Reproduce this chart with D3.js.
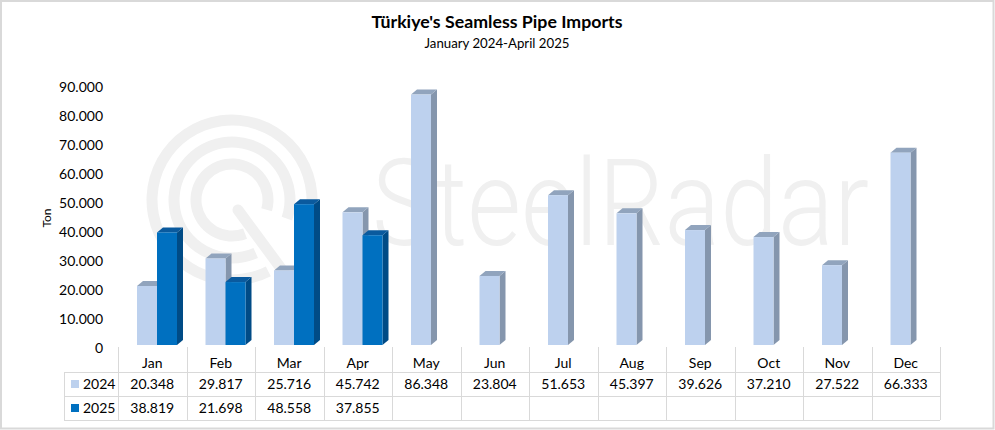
<!DOCTYPE html>
<html><head><meta charset="utf-8">
<script src="https://cdn.jsdelivr.net/npm/d3@7"></script>
<style>
html,body{margin:0;padding:0;background:#fff;}
svg{display:block;font-family:Lato,"Open Sans",sans-serif;}
</style></head>
<body>
<svg id="chart" width="995" height="430"></svg>
<script>
const months = ["Jan","Feb","Mar","Apr","May","Jun","Jul","Aug","Sep","Oct","Nov","Dec"];
const seriesNames = ["2024","2025"];
const values2024 = [20348,29817,25716,45742,86348,23804,51653,45397,39626,37210,27522,66333];
const values2025 = [38819,21698,48558,37855,null,null,null,null,null,null,null,null];
const yTicks = [0,10000,20000,30000,40000,50000,60000,70000,80000,90000];
const titleText = "Türkiye's Seamless Pipe Imports";
const subtitleText = "January 2024-April 2025";
const yLabel = "Ton";

const W = 995, H = 430;
const svg = d3.select("#chart");
const locale = d3.formatLocale({decimal:",", thousands:".", grouping:[3], currency:["",""]});
const fmt = locale.format(",d");

const colors = {
  "2024": {front:"#bdd1ee", side:"#8596ad", top:"#91a4bd"},
  "2025": {front:"#0070c0", side:"#004b86", top:"#0a5a9e"}
};

// outer border
svg.append("rect").attr("x",1).attr("y",1).attr("width",W-2.5).attr("height",H-2.5)
  .attr("fill","#fff").attr("stroke","#d9d9d9").attr("stroke-width",2);

// scales
const x = d3.scaleBand().domain(months).range([118,940]).paddingInner(0).paddingOuter(0);
const y = d3.scaleLinear().domain([0,90000]).range([348,87]);
const sub = d3.scaleBand().domain(seriesNames).range([19,59]);
const depthX = 6, depthY = 5, baseShift = 3;

// watermark
const wm = svg.append("g").attr("fill","none").attr("stroke","#f0f0f0").attr("stroke-linecap","round");
const cx = 232, cy = 200;
[80,58,36].forEach((r,i)=>{
  const arc = d3.arc().innerRadius(r-5.5).outerRadius(r+5.5)
    .startAngle(Math.PI*0.85 + i*0.05).endAngle(Math.PI*2.62 - i*0.05);
  wm.append("path").attr("d",arc()).attr("transform",`translate(${cx},${cy})`)
    .attr("fill","#f0f0f0").attr("stroke","none");
});
wm.append("line").attr("x1",cx+6).attr("y1",cy+10).attr("x2",cx+62).attr("y2",cy+86)
  .attr("stroke-width",11);
svg.append("text").attr("x",372).attr("y",245).attr("textLength",497).attr("lengthAdjust","spacingAndGlyphs")
  .attr("font-family","Roboto, Lato, sans-serif").attr("font-weight",300)
  .attr("font-size",120).attr("fill","#f0f0f0").text("SteelRadar");

// title
svg.append("text").attr("x",497).attr("y",28).attr("text-anchor","middle")
  .attr("font-size",17).attr("font-weight","bold").attr("fill","#000")
  .attr("textLength",251).attr("lengthAdjust","spacingAndGlyphs").text(titleText);
svg.append("text").attr("x",497).attr("y",48).attr("text-anchor","middle")
  .attr("font-size",13).attr("fill","#000")
  .attr("textLength",145).attr("lengthAdjust","spacingAndGlyphs").text(subtitleText);

// y ticks
svg.append("g").selectAll("text").data(yTicks).join("text")
  .attr("x",103).attr("y",d=>y(d)).attr("dy","0.35em").attr("text-anchor","end")
  .attr("font-size",14).attr("fill","#000").text(d=>fmt(d));
svg.append("text").attr("transform","translate(51,218) rotate(-90)").attr("text-anchor","middle")
  .attr("font-size",12).attr("fill","#000").text(yLabel);

// bars
const seriesData = [
  {name:"2024", vals:values2024},
  {name:"2025", vals:values2025}
];
const barW = sub.bandwidth();
const gBars = svg.append("g");
seriesData.forEach(s=>{
  const c = colors[s.name];
  const g = gBars.append("g");
  const data = months.map((m,i)=>({m, v:s.vals[i]})).filter(d=>d.v!=null);
  data.forEach(d=>{
    const x0 = x(d.m) + sub(s.name);
    const x1 = x0 + barW;
    const base = y(0) - baseShift;
    const top = y(d.v) - baseShift;
    g.append("path").attr("fill",c.side)
      .attr("d",`M${x1},${top}L${x1+depthX},${top-depthY}L${x1+depthX},${base-depthY}L${x1},${base}Z`);
    g.append("path").attr("fill",c.top)
      .attr("d",`M${x0},${top}L${x1},${top}L${x1+depthX},${top-depthY}L${x0+depthX},${top-depthY}Z`);
    g.append("rect").attr("x",x0).attr("y",top).attr("width",barW).attr("height",base-top).attr("fill",c.front);
  });
});

// data table
const rowTop = 372, rowH = 24, tableLeft = 64, tableRight = 940;
const tg = svg.append("g").attr("stroke","#d9d9d9").attr("stroke-width",1).attr("shape-rendering","crispEdges");
[0,1,2].forEach(i=>{
  tg.append("line").attr("x1",tableLeft).attr("x2",tableRight)
    .attr("y1",rowTop+i*rowH+0.5).attr("y2",rowTop+i*rowH+0.5);
});
tg.append("line").attr("x1",tableLeft+0.5).attr("x2",tableLeft+0.5).attr("y1",rowTop).attr("y2",rowTop+2*rowH);
months.forEach(m=>{
  tg.append("line").attr("x1",x(m)+0.5).attr("x2",x(m)+0.5).attr("y1",347).attr("y2",rowTop+2*rowH);
});
tg.append("line").attr("x1",tableRight+0.5).attr("x2",tableRight+0.5).attr("y1",347).attr("y2",rowTop+2*rowH);

svg.append("g").selectAll("text").data(months).join("text")
  .attr("x",d=>x(d)+x.bandwidth()/2).attr("y",363).attr("dy","0.35em")
  .attr("text-anchor","middle").attr("font-size",14).attr("fill","#000").text(d=>d);

seriesData.forEach((s,si)=>{
  const cyRow = rowTop + si*rowH + rowH/2;
  svg.append("rect").attr("x",71).attr("y",cyRow-4).attr("width",8).attr("height",8).attr("fill",colors[s.name].front);
  svg.append("text").attr("x",83).attr("y",cyRow).attr("dy","0.35em").attr("font-size",14).attr("fill","#000").text(s.name);
  svg.append("g").selectAll("text").data(months.map((m,i)=>({m,v:s.vals[i]})).filter(d=>d.v!=null)).join("text")
    .attr("x",d=>x(d.m)+x.bandwidth()/2).attr("y",cyRow).attr("dy","0.35em")
    .attr("text-anchor","middle").attr("font-size",14).attr("fill","#000").text(d=>fmt(d.v));
});
</script>
</body></html>
